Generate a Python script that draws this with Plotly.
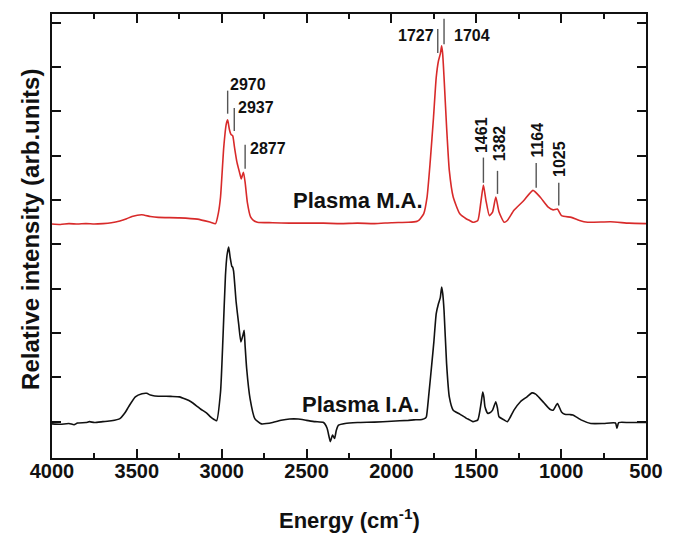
import plotly.graph_objects as go

# ---------------- data ----------------
black_wn = [4000, 3950, 3900, 3870, 3850, 3800, 3780, 3750, 3700, 3650, 3600, 3570, 3548, 3509, 3470, 3442,
            3420, 3394, 3300, 3249, 3181, 3143, 3123, 3090, 3066, 3045, 3030, 3007, 2992, 2978, 2969, 2959,
            2950, 2940, 2936, 2930, 2915, 2900, 2887, 2875, 2868, 2862, 2853, 2833, 2805, 2766, 2700, 2650,
            2600, 2550, 2500, 2450, 2400, 2379, 2360, 2347, 2335, 2325, 2312, 2273, 2200, 2100, 2000, 1900,
            1868, 1820, 1800, 1794, 1781, 1762, 1750, 1736, 1723, 1712, 1704, 1698, 1690, 1675, 1659, 1636,
            1597, 1560, 1539, 1520, 1491, 1472, 1462, 1455, 1449, 1433, 1420, 1404, 1385, 1375, 1366, 1336,
            1317, 1300, 1278, 1240, 1201, 1172, 1150, 1124, 1100, 1066, 1047, 1022, 998, 979, 950, 931,
            900, 883, 825, 750, 680, 671, 661, 600, 500]
black_int = [-0.05, -0.06, -0.04, -0.07, -0.03, -0.02, 0.0, -0.02, 0.0, 0.02, 0.07, 0.2, 0.34, 0.56, 0.63, 0.64,
             0.6, 0.58, 0.57, 0.56, 0.45, 0.34, 0.28, 0.2, 0.11, 0.05, 0.02, 0.67, 1.95, 3.3, 3.75, 3.94,
             3.7, 3.5, 3.49, 3.4, 2.7, 2.2, 1.8, 1.95, 2.06, 1.7, 1.2, 0.52, 0.07, -0.05, -0.02, 0.03,
             0.06, 0.06, 0.03, 0.0, -0.02, -0.15, -0.45, -0.3, -0.38, -0.2, -0.08, -0.04, -0.02, -0.01, 0.01, 0.03,
             0.04, 0.05, 0.08, 0.11, 0.56, 1.31, 1.8, 2.44, 2.66, 2.8, 3.04, 2.9, 2.51, 1.31, 0.56, 0.26,
             0.17, 0.08, 0.04, 0.0, 0.04, 0.41, 0.67, 0.55, 0.34, 0.19, 0.2, 0.26, 0.45, 0.3, 0.11, 0.04,
             0.0, 0.1, 0.26, 0.45, 0.56, 0.65, 0.62, 0.52, 0.42, 0.28, 0.26, 0.41, 0.22, 0.17, 0.16, 0.15,
             0.08, 0.04, -0.04, -0.04, -0.03, -0.15, -0.02, -0.02, -0.02]

red_wn = [4000, 3950, 3900, 3850, 3800, 3750, 3700, 3650, 3600, 3560, 3529, 3471, 3420, 3374, 3249, 3143,
          3066, 3036, 3020, 3007, 2988, 2973, 2965, 2955, 2945, 2935, 2925, 2910, 2890, 2885, 2872, 2862,
          2849, 2830, 2815, 2790, 2700, 2600, 2500, 2400, 2300, 2200, 2100, 2000, 1900, 1850, 1839, 1810,
          1790, 1771, 1752, 1736, 1723, 1712, 1704, 1698, 1690, 1675, 1659, 1636, 1597, 1560, 1539, 1520,
          1491, 1472, 1458, 1443, 1423, 1404, 1385, 1366, 1336, 1317, 1278, 1220, 1166, 1124, 1076, 1047,
          1022, 998, 940, 892, 844, 709, 600, 500]
red_int = [4.46, 4.45, 4.47, 4.46, 4.47, 4.46, 4.47, 4.49, 4.53, 4.58, 4.63, 4.67, 4.63, 4.61, 4.6, 4.57,
           4.5, 4.47, 4.7, 5.07, 6.19, 6.72, 6.81, 6.6, 6.48, 6.45, 6.2, 5.85, 5.55, 5.48, 5.63, 5.4,
           4.95, 4.62, 4.55, 4.5, 4.49, 4.48, 4.48, 4.48, 4.47, 4.48, 4.47, 4.49, 4.5, 4.52, 4.54, 4.69,
           5.07, 5.89, 6.87, 7.77, 8.14, 8.3, 8.48, 8.3, 7.77, 6.65, 5.67, 5.07, 4.69, 4.58, 4.54, 4.5,
           4.54, 4.99, 5.34, 4.99, 4.65, 4.73, 5.07, 4.73, 4.5, 4.54, 4.77, 4.99, 5.22, 5.07, 4.84, 4.78,
           4.8, 4.65, 4.61, 4.54, 4.5, 4.51, 4.48, 4.47]

series_names = ["Plasma I.A.", "Plasma M.A."]
x_ticks = [4000, 3500, 3000, 2500, 2000, 1500, 1000, 500]
peak_labels = ["2970", "2937", "2877", "1727", "1704", "1461", "1382", "1164", "1025"]

# ---------------- figure ----------------
FONT = "Liberation Sans, Arial, sans-serif"
RED = "#d82a2a"
INK = "#111111"

fig = go.Figure()
fig.add_trace(go.Scatter(x=black_wn, y=black_int, mode="lines", name=series_names[0],
                         line=dict(color=INK, width=1.6, shape="spline", smoothing=0.5)))
fig.add_trace(go.Scatter(x=red_wn, y=red_int, mode="lines", name=series_names[1],
                         line=dict(color=RED, width=1.6, shape="spline", smoothing=0.5)))

# peak marker lines: (x, y0, y1)
peak_lines = [(2965, 6.95, 7.47), (2926, 6.56, 7.08), (2862, 5.71, 6.25),
              (1727, 8.32, 8.86), (1690, 8.52, 9.09),
              (1458, 5.39, 5.96), (1375, 5.14, 5.66), (1147, 5.28, 5.84), (1014, 4.88, 5.39)]
for (xx, y0, y1) in peak_lines:
    fig.add_shape(type="line", xref="x", yref="y", x0=xx, x1=xx, y0=y0, y1=y1,
                  line=dict(color="#555555", width=1.4))

# peak texts: (x, y, xanchor, angle)
peak_text_pos = [(2961, 7.60, "left", 0), (2913, 7.08, "left", 0), (2845, 6.16, "left", 0),
                 (1740, 8.71, "right", 0), (1645, 8.71, "left", 0),
                 (1466, 6.47, "center", -90), (1363, 6.27, "center", -90),
                 (1138, 6.36, "center", -90), (1006, 5.93, "center", -90)]
for lab, (xx, yy, xa, ang) in zip(peak_labels, peak_text_pos):
    fig.add_annotation(x=xx, y=yy, xref="x", yref="y", text=lab, showarrow=False,
                       xanchor=xa, yanchor="middle", textangle=ang,
                       font=dict(family=FONT, size=16, color=INK, weight="bold"))

# series labels
fig.add_annotation(x=2198, y=4.98, xref="x", yref="y", text=series_names[1], showarrow=False,
                   xanchor="center", yanchor="middle",
                   font=dict(family=FONT, size=22, color=INK, weight="bold"))
fig.add_annotation(x=2180, y=0.39, xref="x", yref="y", text=series_names[0], showarrow=False,
                   xanchor="center", yanchor="middle",
                   font=dict(family=FONT, size=22, color=INK, weight="bold"))

# axis titles
fig.add_annotation(x=0.5, y=-0.138, xref="paper", yref="paper", text="Energy (cm<sup>-1</sup>)",
                   showarrow=False, xanchor="center", yanchor="middle",
                   font=dict(family=FONT, size=22, color=INK, weight="bold"))
fig.add_annotation(x=-0.036, y=0.515, xref="paper", yref="paper", text="Relative intensity (arb.units)",
                   showarrow=False, xanchor="center", yanchor="middle", textangle=-90,
                   font=dict(family=FONT, size=24, color=INK, weight="bold"))

fig.update_layout(
    width=675, height=533,
    margin=dict(l=52, r=19, t=13, b=75),
    paper_bgcolor="white", plot_bgcolor="white",
    showlegend=False,
    xaxis=dict(range=[4000, 500], tickmode="array", tickvals=x_ticks,
               ticktext=[str(v) for v in x_ticks],
               ticks="inside", ticklen=9, tickwidth=1.6, tickcolor=INK,
               minor=dict(dtick=250, tick0=500, ticks="inside", ticklen=5, tickwidth=1.6, tickcolor=INK),
               showline=True, linecolor=INK, linewidth=1.8, mirror="allticks",
               showgrid=False, zeroline=False, ticklabelstandoff=-6,
               tickfont=dict(family=FONT, size=20, color=INK, weight="bold")),
    yaxis=dict(range=[-0.82, 9.2], tick0=0, dtick=1, showticklabels=False,
               ticks="inside", ticklen=9, tickwidth=1.6, tickcolor=INK,
               showline=True, linecolor=INK, linewidth=1.8, mirror="allticks",
               showgrid=False, zeroline=False),
)

fig.write_html("out.html")
